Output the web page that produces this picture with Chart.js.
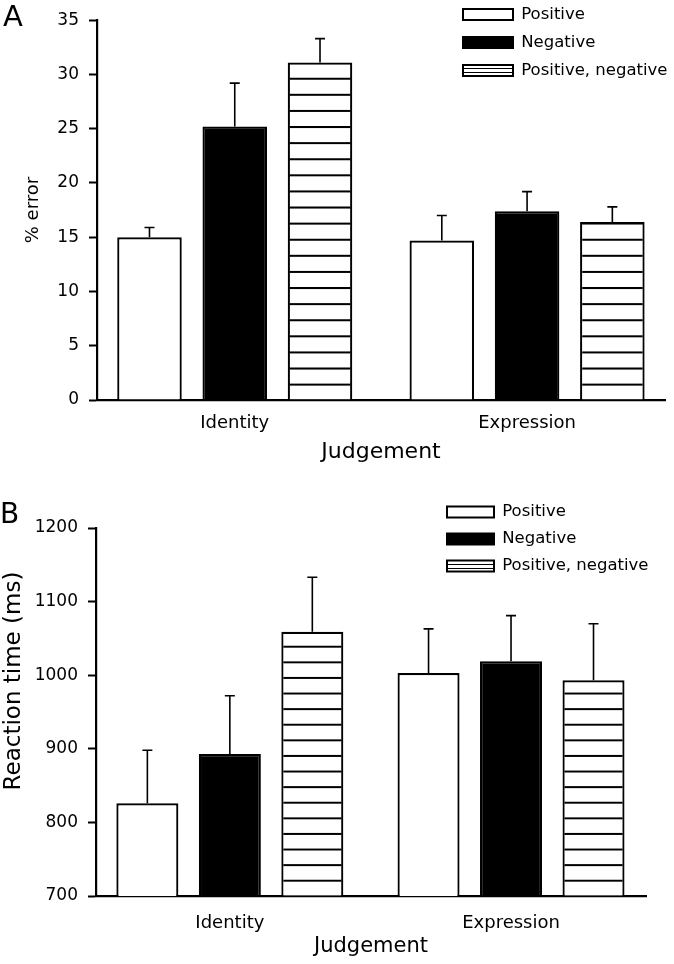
<!DOCTYPE html>
<html>
<head>
<meta charset="utf-8">
<script src="https://cdn.jsdelivr.net/npm/chart.js@4.4.1/dist/chart.umd.min.js"></script>
<style>
  html, body { margin: 0; padding: 0; background: #fff; }
  #wrap { position: relative; width: 674px; height: 964px; overflow: hidden; background: #fff; }
  canvas { position: absolute; left: 0; }
  .pl { position: absolute; font-family: 'DejaVu Sans', sans-serif; line-height: 1; color: #000; }
</style>
</head>
<body>
<div id="wrap">
  <canvas id="cA" width="674" height="480" style="top:0px"></canvas>
  <canvas id="cB" width="674" height="484" style="top:480px"></canvas>
  <div class="pl" style="left:3px;top:2px;font-size:29px">A</div>
  <div class="pl" style="left:0px;top:500px;font-size:28px">B</div>
</div>
<script>
// ---------------- data ----------------
const categories = ['Identity', 'Expression'];
const seriesLabels = ['Positive', 'Negative', 'Positive, negative'];

// Panel A: % error
const errorPositive = [15.0, 14.7];
const errorPositiveSE = [0.9, 2.3];
const errorNegative = [25.2, 17.4];
const errorNegativeSE = [4.0, 1.8];
const errorBoth = [31.1, 16.4];
const errorBothSE = [2.2, 1.4];
const errorTicks = [0, 5, 10, 15, 20, 25, 30, 35];

// Panel B: reaction time (ms)
const rtPositive = [826, 1003];
const rtPositiveSE = [72, 60];
const rtNegative = [893, 1019];
const rtNegativeSE = [79, 62];
const rtBoth = [1059, 993];
const rtBothSE = [74, 77];
const rtTicks = [700, 800, 900, 1000, 1100, 1200];

const xTitle = 'Judgement';
const yTitleA = '% error';
const yTitleB = 'Reaction time (ms)';

// ---------------- helpers ----------------
Chart.defaults.font.family = "'DejaVu Sans', sans-serif";
Chart.defaults.color = '#000';

function stripePattern(ctx, ty, period) {
  const t = document.createElement('canvas');
  t.width = 8; t.height = 16;
  const c = t.getContext('2d');
  c.fillStyle = '#fff'; c.fillRect(0, 0, 8, 16);
  c.fillStyle = '#000'; c.fillRect(0, 0, 8, 1); c.fillRect(0, 15, 8, 1);
  const p = ctx.createPattern(t, 'repeat');
  if (p.setTransform) p.setTransform(new DOMMatrix([1, 0, 0, period / 16, 0, ty]));
  return p;
}
function legendStripe(ctx) {
  const t = document.createElement('canvas');
  t.width = 4; t.height = 4;
  const c = t.getContext('2d');
  c.fillStyle = '#fff'; c.fillRect(0, 0, 4, 4);
  c.fillStyle = '#000'; c.fillRect(0, 0, 4, 1);
  return ctx.createPattern(t, 'repeat');
}

const errorBars = {
  id: 'errorBars',
  afterDatasetsDraw(chart, args, o) {
    const ctx = chart.ctx, y = chart.scales.y;
    ctx.save();
    ctx.strokeStyle = '#000';
    ctx.lineWidth = o.lineWidth;
    chart.data.datasets.forEach((ds, i) => {
      const meta = chart.getDatasetMeta(i);
      meta.data.forEach((bar, j) => {
        const top = y.getPixelForValue(ds.data[j] + ds.errors[j]);
        const x = bar.x;
        ctx.beginPath();
        ctx.moveTo(x, bar.y);
        ctx.lineTo(x, top);
        ctx.moveTo(x - o.cap / 2, top);
        ctx.lineTo(x + o.cap / 2, top);
        ctx.stroke();
      });
    });
    ctx.restore();
  }
};

const yTitle = {
  id: 'yTitle',
  afterDraw(chart, args, o) {
    const c = chart.ctx;
    c.save();
    c.translate(o.x, o.y);
    c.rotate(-Math.PI / 2);
    c.font = o.size + "px 'DejaVu Sans', sans-serif";
    c.fillStyle = '#000';
    c.textAlign = 'center';
    c.textBaseline = 'alphabetic';
    c.fillText(o.text, 0, 0);
    c.restore();
  }
};

const legendPlace = {
  id: 'legendPlace',
  afterLayout(chart, args, o) {
    const L = chart.legend;
    if (!L) return;
    const w = L.width, h = L.height;
    L.left = o.left; L.top = o.top; L.right = o.left + w; L.bottom = o.top + h;
  }
};

function buildChart(canvasId, g, series, ticksArr, yMin, yMax, yTitleText) {
  const ctx = document.getElementById(canvasId).getContext('2d');
  const stripes = stripePattern(ctx, g.stripeOffset, g.stripePeriod);
  const legPat = legendStripe(ctx);
  const fills = ['#ffffff', '#000000', stripes];
  return new Chart(ctx, {
    type: 'bar',
    data: {
      labels: categories,
      datasets: series.map((s, i) => ({
        label: seriesLabels[i],
        data: s.values,
        errors: s.se,
        backgroundColor: fills[i],
        borderColor: '#000',
        borderWidth: 2.2,
        categoryPercentage: g.catPct,
        barPercentage: g.barPct
      }))
    },
    options: {
      responsive: false,
      animation: false,
      events: [],
      layout: { padding: { top: g.top, right: g.right, bottom: 0, left: 0 } },
      scales: {
        x: {
          type: 'category',
          offset: true,
          grid: { display: false, drawTicks: false },
          border: { display: true, color: '#000', width: 2.2 },
          ticks: { color: '#000', font: { size: 18 }, padding: g.xTickPad, maxRotation: 0, autoSkip: false },
          title: { display: true, text: xTitle, color: '#000', font: { size: g.xTitleSize }, padding: { top: 0, bottom: g.xTitlePad } },
          afterBuildTicks: (s) => { s._startValue = g.xStart; s._valueRange = g.xRange; },
          afterFit: (s) => { s.height = g.xHeight; }
        },
        y: {
          min: yMin,
          max: yMax,
          afterBuildTicks: (s) => { s.ticks = ticksArr.map(v => ({ value: v })); },
          grid: { drawOnChartArea: false, drawTicks: true, tickLength: 8, tickColor: '#000', tickWidth: 2 },
          border: { display: true, color: '#000', width: 2.2 },
          ticks: { color: '#000', font: { size: 17 }, padding: 10, callback: (v) => String(v) },
          afterFit: (s) => { s.width = g.yWidth; }
        }
      },
      plugins: {
        tooltip: { enabled: false },
        legend: {
          position: 'chartArea',
          align: 'start',
          labels: {
            boxWidth: g.boxW,
            boxHeight: 11,
            padding: g.legPad,
            color: '#000',
            font: { size: 16.5 },
            generateLabels: (chart) => chart.data.datasets.map((ds, i) => ({
              text: ds.label,
              fillStyle: i === 2 ? legPat : ds.backgroundColor,
              strokeStyle: '#000',
              fontColor: '#000',
              lineWidth: 2,
              hidden: false,
              datasetIndex: i
            }))
          }
        },
        legendPlace: { left: g.legLeft, top: g.legTop },
        errorBars: { lineWidth: 1.6, cap: 10 },
        yTitle: { text: yTitleText, x: g.yTitleX, y: g.yTitleY, size: g.yTitleSize }
      }
    },
    plugins: [errorBars, yTitle, legendPlace]
  });
}

buildChart('cA', {
  top: 20, right: 9, yWidth: 97, xHeight: 80,
  xStart: -0.4712, xRange: 1.943, catPct: 0.875, barPct: 0.757,
  xTickPad: 13, xTitleSize: 22, xTitlePad: 15,
  stripeOffset: 14.3, stripePeriod: 16.1,
  boxW: 50, legPad: 11.5, legLeft: 451.5, legTop: -5.25,
  yTitleX: 38, yTitleY: 210, yTitleSize: 18
}, [
  { values: errorPositive, se: errorPositiveSE },
  { values: errorNegative, se: errorNegativeSE },
  { values: errorBoth, se: errorBothSE }
], errorTicks, 0, 35, yTitleA);

buildChart('cB', {
  top: 48, right: 28, yWidth: 96, xHeight: 68,
  xStart: -0.476, xRange: 1.956, catPct: 0.88, barPct: 0.752,
  xTickPad: 17, xTitleSize: 21, xTitlePad: 5,
  stripeOffset: 10.7, stripePeriod: 15.6,
  boxW: 47, legPad: 10.5, legLeft: 436.5, legTop: 13.25,
  yTitleX: 20, yTitleY: 201, yTitleSize: 23
}, [
  { values: rtPositive, se: rtPositiveSE },
  { values: rtNegative, se: rtNegativeSE },
  { values: rtBoth, se: rtBothSE }
], rtTicks, 700, 1200, yTitleB);
</script>
</body>
</html>
